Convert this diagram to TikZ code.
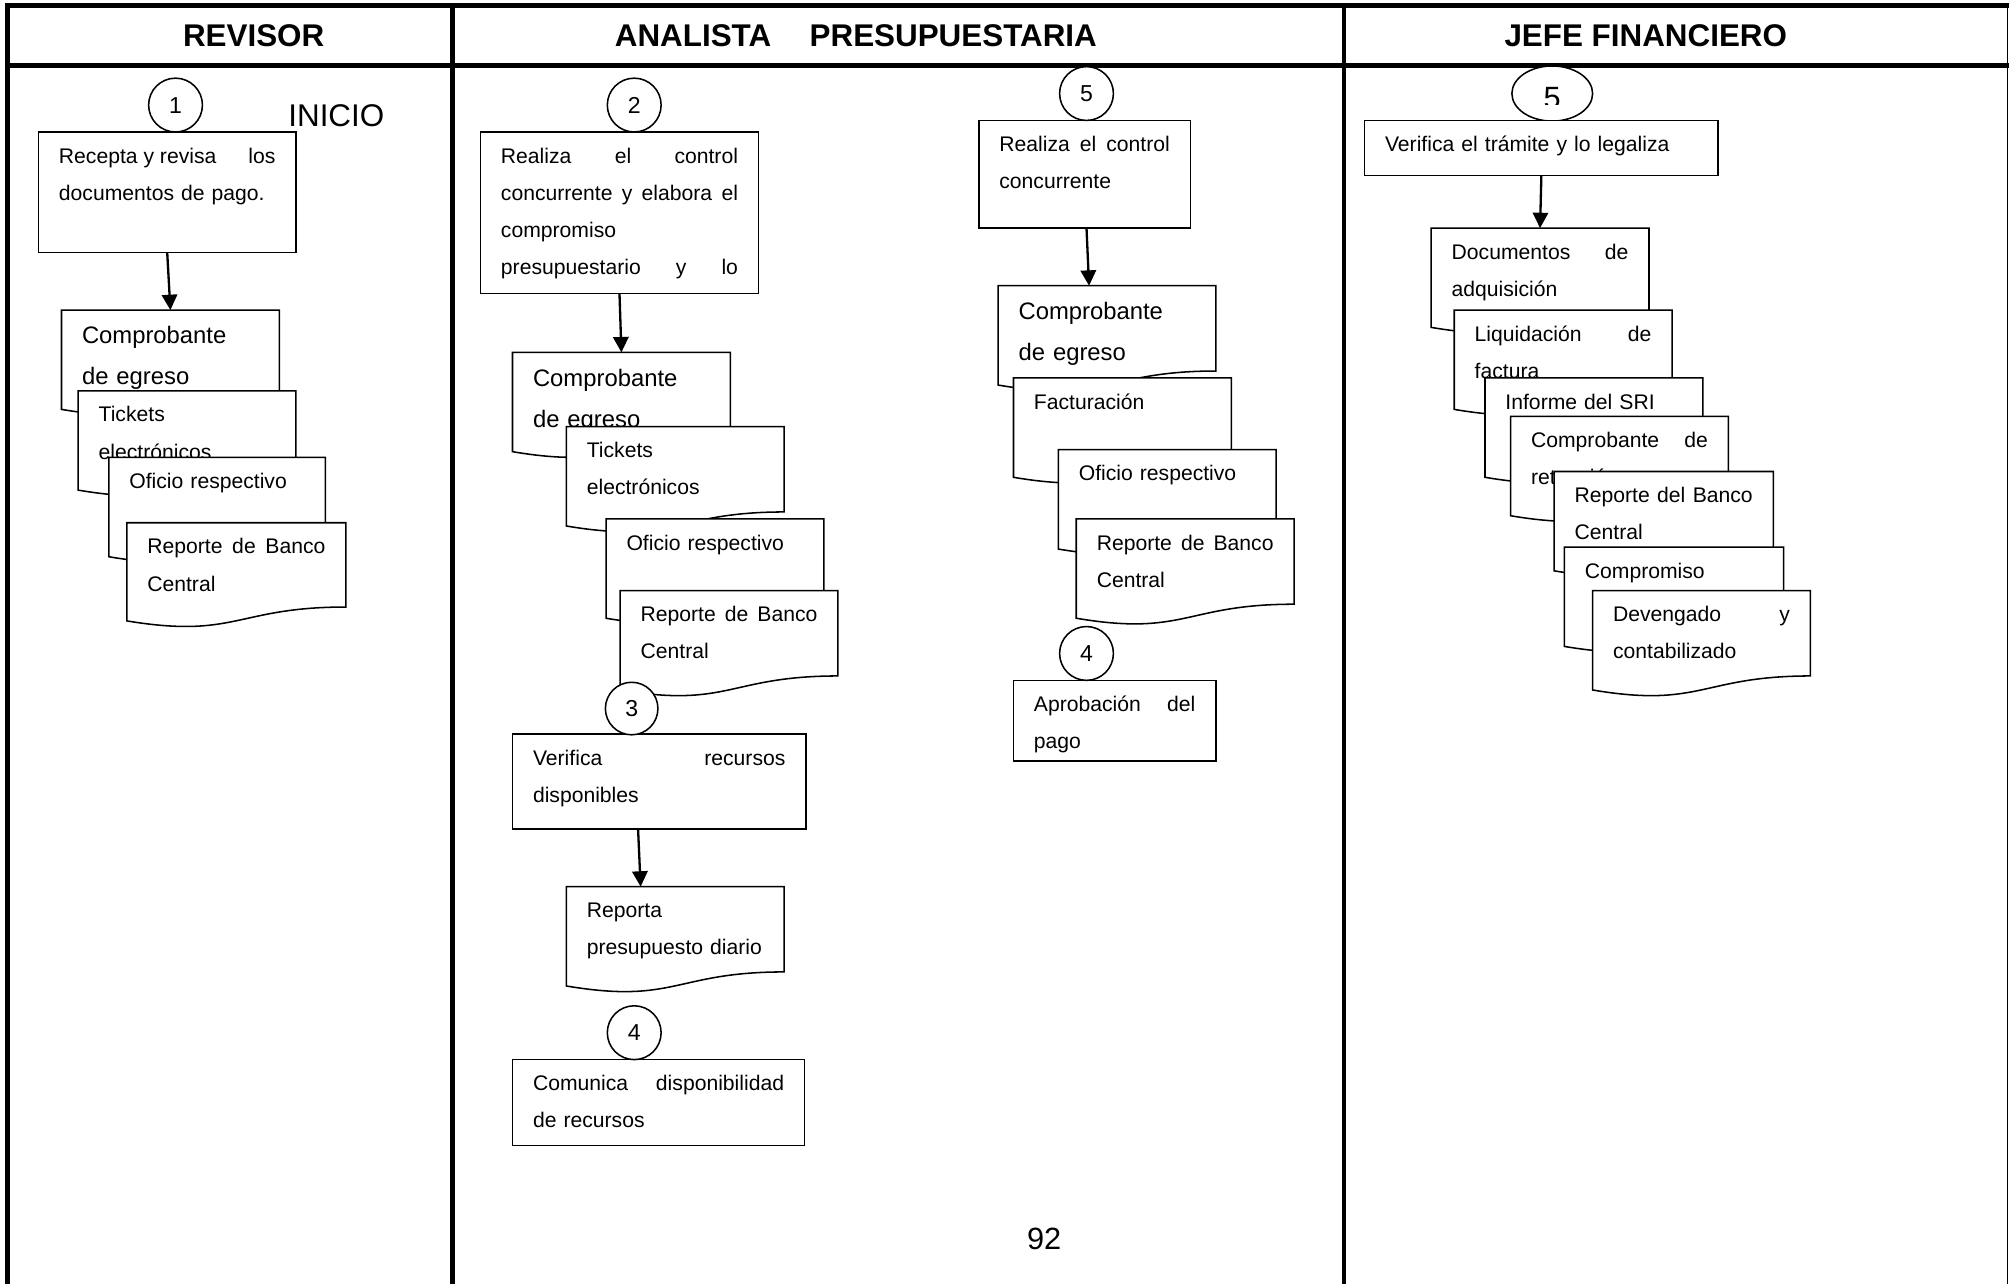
\documentclass[tikz,border=0pt]{standalone}
\usepackage{fontspec}
\setmainfont{Liberation Sans}
\usetikzlibrary{calc,arrows.meta,shapes.geometric}

% justified line spanning the whole text width (spaces share the slack)
\newcommand{\jl}[1]{\makebox[\linewidth][s]{\spaceskip=\fontdimen2\font plus 1fil\relax #1}}
\newcommand{\smallfont}{\fontsize{16.5}{29}\selectfont}
\newcommand{\bigfont}{\fontsize{18.6}{32}\selectfont}

\tikzset{
  frameline/.style={line width=3.6pt},
  boxline/.style={draw=black, line width=1.2pt, fill=white},
  sheetarea/.style={draw=none, inner sep=0pt, outer sep=0pt},
  boxtext/.style={anchor=north west, inner sep=0pt, outer sep=0pt, align=left},
  numcirc/.style={circle, draw=black, line width=1.2pt, fill=white, minimum size=42pt,
                  inner sep=0pt, font=\fontsize{18}{22}\selectfont},
  flow/.style={line width=1.8pt, -{Triangle[length=12pt,width=12pt]}},
  head/.style={font=\fontsize{24.5}{28}\selectfont\bfseries},
}

% process box: name, x, y (top-left), width, height, font, text
\newcommand{\stepbox}[7]{%
  \node[sheetarea, minimum width=#4pt, minimum height=#5pt] (#1) at ({#2+#4/2},{#3+#5/2}) {};
  \draw[boxline] (#1.north west) rectangle (#1.south east);
  \pgfmathsetmacro{\boxtw}{#4-32}
  \node[boxtext, text width=\boxtw pt, font=#6] (#1-t) at ([shift={(16,4)}]#1.north west) {\strut#7};
}

% document sheet with wavy lower edge: name, x, y (top-left), width, height, font, text
\newcommand{\docsheet}[7]{%
  \node[sheetarea, minimum width=#4pt, minimum height=#5pt] (#1) at ({#2+#4/2},{#3+#5/2}) {};
  \draw[boxline] (#1.north west) -- (#1.north east)
    -- ($(#1.north east)!0.802!(#1.south east)$)
    .. controls ($(#1.north)!0.802!(#1.south)$) and ($(#1.north)!1.107!(#1.south)$)
    .. ($(#1.north west)!0.934!(#1.south west)$) -- cycle;
  \pgfmathsetmacro{\boxtw}{#4-32}
  \node[boxtext, text width=\boxtw pt, font=#6] (#1-t) at ([shift={(16,4)}]#1.north west) {\strut#7};
}

\begin{document}
\begin{tikzpicture}[x=1pt, y=-1pt]
\useasboundingbox (0,0) rectangle (1568,1002);
\fill[white] (0,0) rectangle (1568,1002);

% ---- lanes ----
\draw[frameline] (6,1002) -- (6,4.3) -- (1568,4.3);
\draw[frameline] (6,51) -- (1568,51);
\draw[frameline] (353,4.3) -- (353,1002);
\draw[frameline] (1049,4.3) -- (1049,1002);
\draw[line width=1pt] (1567,4.3) -- (1567,1002);

\node[head] (hRev) at (198,27.5) {REVISOR};
\node[head] (hAna) at (668,27.5) {ANALISTA\hspace{30pt}PRESUPUESTARIA};
\node[head] (hJef) at (1284.5,27.5) {JEFE FINANCIERO};

% ---- REVISOR ----
\node[font=\fontsize{24.5}{28}\selectfont] (ini) at (262.5,90.5) {INICIO};
\stepbox{rA}{30}{103}{201}{94}{\smallfont}{\jl{Recepta y revisa\hfill los}\\documentos de pago.}
\docsheet{dA1}{48}{242}{170}{83}{\bigfont}{Comprobante\\de egreso}
\docsheet{dA2}{61}{305}{170}{83}{\smallfont}{Tickets\\electrónicos}
\docsheet{dA3}{85}{357}{169}{83}{\smallfont}{Oficio respectivo}
\docsheet{dA4}{99}{408}{171}{82}{\smallfont}{\jl{Reporte de Banco}\\Central}
\node[numcirc] (n1) at (137,82) {1};
\draw[flow] (rA.south) -- (dA1.north);

% ---- ANALISTA PRESUPUESTARIA, first column ----
\stepbox{rB}{375}{103}{217}{126}{\smallfont}{\jl{Realiza el control}\\\jl{concurrente y elabora el}\\compromiso\\\jl{presupuestario y lo}}
\docsheet{dB1}{400}{275}{170}{83}{\bigfont}{Comprobante\\de egreso}
\docsheet{dB2}{442}{333}{170}{83}{\smallfont}{Tickets\\electrónicos}
\docsheet{dB3}{473}{405}{170}{83}{\smallfont}{Oficio respectivo}
\docsheet{dB4}{484}{461}{170}{83}{\smallfont}{\jl{Reporte de Banco}\\Central}
\stepbox{rC}{400}{573}{229}{74}{\smallfont}{\jl{Verifica recursos}\\disponibles}
\docsheet{dC}{442}{692}{170}{83}{\smallfont}{Reporta\\presupuesto diario}
\stepbox{rD}{400}{827}{228}{67}{\smallfont}{\jl{Comunica disponibilidad}\\de recursos}
\node[numcirc] (n2) at (495,82) {2};
\node[numcirc, minimum size=41pt] (n3) at (493,553) {3};
\node[numcirc] (n4a) at (495,806) {4};
\draw[flow] (rB.south) -- (dB1.north);
\draw[flow] ([xshift=98pt]rC.south west) -- ([xshift=58pt]dC.north west);

% ---- ANALISTA PRESUPUESTARIA, second column ----
\stepbox{rE}{764}{94}{165}{84}{\smallfont}{\jl{Realiza el control}\\concurrente}
\docsheet{dE1}{779}{223}{170}{83}{\bigfont}{Comprobante\\de egreso}
\docsheet{dE2}{791}{295}{170}{83}{\smallfont}{Facturación}
\docsheet{dE3}{826}{351}{170}{83}{\smallfont}{Oficio respectivo}
\docsheet{dE4}{840}{405}{170}{83}{\smallfont}{\jl{Reporte de Banco}\\Central}
\stepbox{rF}{791}{531}{158}{63}{\smallfont}{\jl{Aprobación del}\\pago}
\node[numcirc] (n5) at (848,73) {5};
\node[numcirc] (n4b) at (848,510) {4};
\draw[flow] ([xshift=84pt]rE.south west) -- ([xshift=71pt]dE1.north west);

\node[font=\fontsize{24}{28}\selectfont] (pg) at (815,967) {92};

% ---- JEFE FINANCIERO ----
\node[ellipse, draw=black, line width=1.2pt, fill=white, minimum width=63pt,
      minimum height=43pt, inner sep=0pt] (n5j) at (1211.5,73) {};
\begin{scope}
  \clip (1180,50) rectangle (1243,81.5);
  \node[font=\fontsize{24}{28}\selectfont] (n5jt) at (1211.5,76.5) {5};
\end{scope}
\stepbox{rG}{1065}{94}{276}{43}{\smallfont}{Verifica el trámite y lo legaliza}
\docsheet{dG1}{1117}{178}{170}{83}{\smallfont}{\jl{Documentos de}\\adquisición}
\docsheet{dG2}{1135}{242}{170}{83}{\smallfont}{\jl{Liquidación de}\\factura}
\docsheet{dG3}{1159}{295}{170}{83}{\smallfont}{Informe del SRI}
\docsheet{dG4}{1179}{325}{170}{83}{\smallfont}{\jl{Comprobante de}\\retención}
\docsheet{dG5}{1213}{368}{171}{83}{\smallfont}{\jl{Reporte del Banco}\\Central}
\docsheet{dG6}{1221}{427}{171}{83}{\smallfont}{Compromiso}
\docsheet{dG7}{1243}{461}{170}{83}{\smallfont}{\jl{Devengado y}\\contabilizado}
\draw[flow] (rG.south) -- (dG1.north);

\end{tikzpicture}
\end{document}
